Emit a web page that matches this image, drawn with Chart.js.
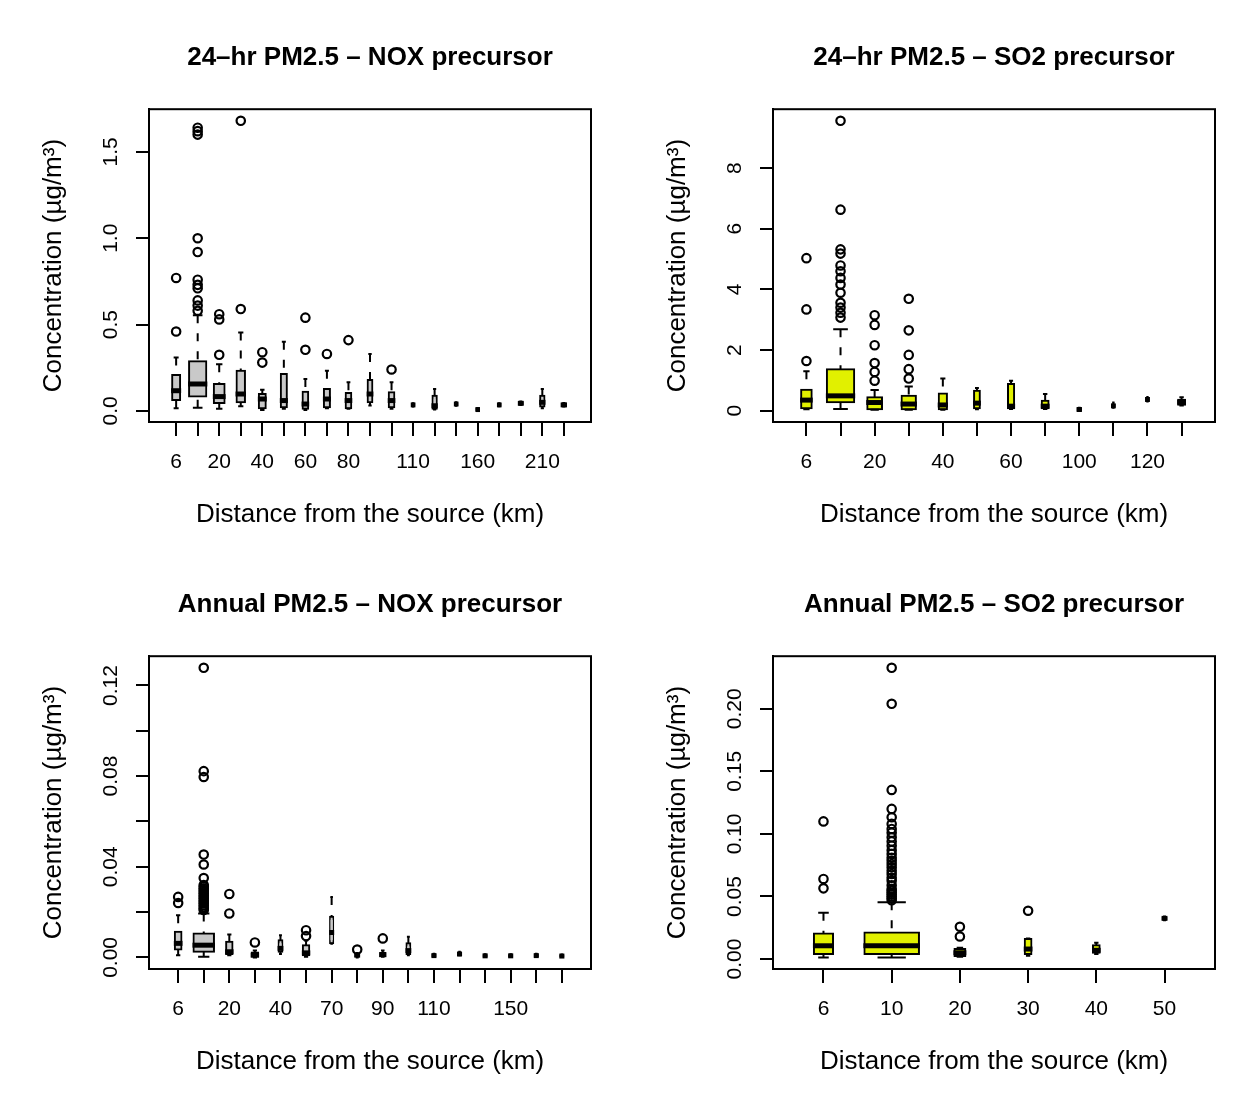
<!DOCTYPE html>
<html>
<head>
<meta charset="utf-8">
<title>PM2.5 concentration by distance from the source</title>
<script src="https://cdn.jsdelivr.net/npm/chart.js@4.4.0/dist/chart.umd.min.js"></script>
<style>
  html, body { margin: 0; padding: 0; background: #fff; }
  body { width: 1247px; height: 1093px; position: relative; overflow: hidden; }
  .panel { position: absolute; width: 623px; height: 546px; }
</style>
</head>
<body>
<div class="panel" style="left:0;top:0"><canvas id="nox24"></canvas></div>
<div class="panel" style="left:624px;top:0"><canvas id="so224"></canvas></div>
<div class="panel" style="left:0;top:547px"><canvas id="noxAnn"></canvas></div>
<div class="panel" style="left:624px;top:547px"><canvas id="so2Ann"></canvas></div>
<script>
// --- 24-hr PM2.5, NOX precursor ---
const catsNox24 = [6, 10, 20, 30, 40, 50, 60, 70, 80, 90, 100, 110, 120, 140, 160, 180, 200, 210, 220];
const shownNox24 = [6, 20, 40, 60, 80, 110, 160, 210];
const loNox24  = [0.016, 0.019, 0.012, 0.027, 0.006, 0.012, 0.006, 0.016, 0.012, 0.031, 0.012, 0.025, 0.008, 0.030, 0.003, 0.027, 0.035, 0.015, 0.025];
const q1Nox24  = [0.064, 0.083, 0.046, 0.050, 0.016, 0.021, 0.012, 0.021, 0.016, 0.050, 0.021, 0.030, 0.012, 0.035, 0.005, 0.030, 0.038, 0.025, 0.028];
const medNox24 = [0.117, 0.156, 0.083, 0.098, 0.069, 0.060, 0.040, 0.069, 0.060, 0.098, 0.060, 0.035, 0.030, 0.040, 0.008, 0.035, 0.044, 0.050, 0.035];
const q3Nox24  = [0.208, 0.287, 0.156, 0.233, 0.098, 0.214, 0.111, 0.127, 0.104, 0.179, 0.108, 0.040, 0.088, 0.045, 0.012, 0.040, 0.050, 0.088, 0.042];
const hiNox24  = [0.310, 0.554, 0.270, 0.454, 0.123, 0.400, 0.185, 0.233, 0.166, 0.330, 0.166, 0.045, 0.127, 0.050, 0.016, 0.045, 0.055, 0.127, 0.046];
const nNox24   = [86, 400, 156, 95, 64, 49, 42, 49, 42, 30, 42, 9, 25, 9, 9, 9, 20, 25, 25];
const outNox24 = [[0.46, 0.77], [0.58, 0.61, 0.64, 0.71, 0.73, 0.76, 0.92, 1.0, 1.6, 1.62, 1.64], [0.325, 0.53, 0.56], [0.59, 1.68], [0.28, 0.34], [], [0.354, 0.54], [0.33], [0.41], [], [0.24], [], [], [], [], [], [], [], []];
const yTicksNox24 = [0, 0.5, 1.0, 1.5];

// --- 24-hr PM2.5, SO2 precursor ---
const catsSo224 = [6, 10, 20, 30, 40, 50, 60, 80, 100, 110, 120, 130];
const shownSo224 = [6, 20, 40, 60, 100, 120];
const loSo224  = [0.05, 0.06, 0.03, 0.03, 0.03, 0.05, 0.06, 0.06, 0.01, 0.10, 0.30, 0.17];
const q1So224  = [0.08, 0.28, 0.05, 0.05, 0.05, 0.08, 0.08, 0.08, 0.02, 0.13, 0.33, 0.20];
const medSo224 = [0.35, 0.49, 0.27, 0.22, 0.19, 0.25, 0.15, 0.15, 0.04, 0.16, 0.37, 0.28];
const q3So224  = [0.69, 1.37, 0.44, 0.49, 0.57, 0.66, 0.88, 0.33, 0.07, 0.20, 0.42, 0.36];
const hiSo224  = [1.30, 2.69, 0.68, 0.80, 1.06, 0.75, 0.99, 0.55, 0.10, 0.27, 0.45, 0.44];
const nSo224   = [60, 400, 116, 110, 36, 18, 20, 25, 6, 4, 4, 25];
const outSo224 = [[1.64, 3.34, 5.03], [3.07, 3.23, 3.40, 3.56, 3.89, 4.16, 4.38, 4.60, 4.79, 5.18, 5.32, 6.63, 9.56], [0.99, 1.28, 1.57, 2.16, 2.83, 3.15], [1.06, 1.37, 1.84, 2.65, 3.69], [], [], [], [], [], [], [], []];
const yTicksSo224 = [0, 2, 4, 6, 8];

// --- Annual PM2.5, NOX precursor ---
const catsNoxAnn = [6, 10, 20, 30, 40, 50, 70, 80, 90, 100, 110, 120, 130, 150, 170, 200];
const shownNoxAnn = [6, 20, 40, 70, 90, 110, 150];
const loNoxAnn  = [0.0010, 0.0003, 0.0010, 0.0000, 0.0015, 0.0003, 0.0060, 0.0000, 0.0003, 0.0010, 0.0003, 0.0010, 0.0002, 0.0002, 0.0004, 0.0002];
const q1NoxAnn  = [0.0035, 0.0025, 0.0015, 0.0004, 0.0025, 0.0010, 0.0062, 0.0005, 0.0006, 0.0015, 0.0005, 0.0012, 0.0004, 0.0004, 0.0006, 0.0004];
const medNoxAnn = [0.0062, 0.0054, 0.0025, 0.0010, 0.0040, 0.0020, 0.0110, 0.0010, 0.0012, 0.0030, 0.0008, 0.0015, 0.0007, 0.0007, 0.0008, 0.0006];
const q3NoxAnn  = [0.0113, 0.0106, 0.0069, 0.0022, 0.0076, 0.0054, 0.0179, 0.0015, 0.0020, 0.0062, 0.0012, 0.0020, 0.0010, 0.0010, 0.0011, 0.0009];
const hiNoxAnn  = [0.0186, 0.0194, 0.0101, 0.0030, 0.0098, 0.0075, 0.0267, 0.0020, 0.0030, 0.0091, 0.0016, 0.0025, 0.0014, 0.0014, 0.0016, 0.0013];
const nNoxAnn   = [42, 400, 39, 39, 14, 39, 9, 14, 25, 14, 9, 9, 9, 9, 9, 9];
const outNoxAnn = [[0.0240, 0.0267], [0.0209, 0.0215, 0.0222, 0.0230, 0.0238, 0.0245, 0.0252, 0.0260, 0.0267, 0.0274, 0.0282, 0.0289, 0.0297, 0.0304, 0.0312, 0.0319, 0.0350, 0.0410, 0.0454, 0.0796, 0.0822, 0.1278], [0.0194, 0.0280], [0.0066], [], [0.0094, 0.0120], [], [0.0035], [0.0084], [], [], [], [], [], [], []];
const yTicksNoxAnn = [0, 0.02, 0.04, 0.06, 0.08, 0.10, 0.12];
const yLabelsNoxAnn = [0, 0.04, 0.08, 0.12];

// --- Annual PM2.5, SO2 precursor ---
const catsSo2Ann = [6, 10, 20, 30, 40, 50];
const loSo2Ann  = [0.0013, 0.0013, 0.0018, 0.0027, 0.0040, 0.0310];
const q1So2Ann  = [0.0040, 0.0040, 0.0025, 0.0040, 0.0050, 0.0320];
const medSo2Ann = [0.0106, 0.0106, 0.0050, 0.0080, 0.0070, 0.0325];
const q3So2Ann  = [0.0205, 0.0213, 0.0080, 0.0160, 0.0110, 0.0330];
const hiSo2Ann  = [0.0370, 0.0453, 0.0090, 0.0165, 0.0130, 0.0340];
const nSo2Ann   = [49, 400, 16, 6, 6, 2];
const outSo2Ann = [[0.0565, 0.0640, 0.1100], [0.0470, 0.0485, 0.0500, 0.0515, 0.0530, 0.0545, 0.0560, 0.0590, 0.0626, 0.0650, 0.0680, 0.0705, 0.0733, 0.0760, 0.0786, 0.0810, 0.0840, 0.0870, 0.0906, 0.0940, 0.0973, 0.1010, 0.1040, 0.1080, 0.1133, 0.1200, 0.1352, 0.2040, 0.2328], [0.0180, 0.0258], [0.0386], [], []];
const yTicksSo2Ann = [0, 0.05, 0.10, 0.15, 0.20];

const FONT = "'Liberation Sans', Arial, Helvetica, sans-serif";
const GREY = '#c9c9c9';
const YELLOW = '#e1f000';

// whiskers (dashed, drawn from the end toward the box), staples and the thick median
function whiskerPlugin(d, widths) {
  return {
    id: 'whiskers',
    afterDatasetsDraw(chart) {
      const { ctx, scales: { x, y } } = chart;
      const unit = x.getPixelForValue(2) - x.getPixelForValue(1);
      ctx.save();
      ctx.strokeStyle = '#000';
      d.q1.forEach((_, i) => {
        const cx = x.getPixelForValue(i + 1);
        const half = unit * widths[i] / 2 + 1;
        ctx.lineWidth = 2;
        ctx.setLineDash([8, 10]);
        ctx.beginPath();
        ctx.moveTo(cx, y.getPixelForValue(d.hi[i]));
        ctx.lineTo(cx, y.getPixelForValue(d.q3[i]));
        ctx.moveTo(cx, y.getPixelForValue(d.lo[i]));
        ctx.lineTo(cx, y.getPixelForValue(d.q1[i]));
        ctx.stroke();
        ctx.setLineDash([]);
        ctx.beginPath();
        [d.lo[i], d.hi[i]].forEach(v => {
          const py = y.getPixelForValue(v);
          ctx.moveTo(cx - half / 2, py);
          ctx.lineTo(cx + half / 2, py);
        });
        ctx.stroke();
        ctx.lineWidth = 5;
        const my = y.getPixelForValue(d.med[i]);
        ctx.beginPath();
        ctx.moveTo(cx - half, my);
        ctx.lineTo(cx + half, my);
        ctx.stroke();
      });
      ctx.restore();
    }
  };
}

// R-style box round the plot region
const plotFrame = {
  id: 'plotFrame',
  afterDraw(chart) {
    const { ctx, chartArea: a } = chart;
    ctx.save();
    ctx.strokeStyle = '#000';
    ctx.lineWidth = 2;
    ctx.strokeRect(a.left, a.top, a.right - a.left, a.bottom - a.top);
    ctx.restore();
  }
};

function boxChart(id, title, d) {
  const n = d.cats.length;
  const nMax = Math.max(...d.nObs);
  const widths = d.nObs.map(k => 0.8 * Math.sqrt(k / nMax));
  const all = d.lo.concat(d.hi, d.outs.flat());
  const dMin = Math.min(...all), dMax = Math.max(...all);
  const ext = 0.04 * (dMax - dMin);

  const meter = document.createElement('canvas').getContext('2d');
  meter.font = '21px ' + FONT;
  const widest = Math.max(...d.yLabels.map(v => meter.measureText(v.toFixed(d.yDigits)).width));

  const boxes = d.cats.map((c, i) => ({
    type: 'bar',
    data: [{ x: i + 1, y: [d.q1[i], d.q3[i]] }],
    backgroundColor: d.fill,
    borderColor: '#000',
    borderWidth: 2,
    borderSkipped: false,
    inflateAmount: 1,
    grouped: false,
    categoryPercentage: 1,
    barPercentage: widths[i]
  }));
  const outliers = {
    type: 'scatter',
    data: d.outs.flatMap((arr, i) => arr.map(v => ({ x: i + 1, y: v }))),
    pointStyle: 'circle',
    pointRadius: 4.2,
    pointBorderWidth: 2.2,
    pointBorderColor: '#000',
    pointBackgroundColor: 'rgba(0,0,0,0)'
  };

  new Chart(document.getElementById(id), {
    type: 'bar',
    data: { datasets: boxes.concat([outliers]) },
    options: {
      responsive: true,
      maintainAspectRatio: false,
      animation: false,
      events: [],
      layout: { padding: { left: 0, right: 32, top: 0, bottom: 0 } },
      plugins: {
        legend: { display: false },
        tooltip: { enabled: false },
        title: {
          display: true, text: title, color: '#000', fullSize: false,
          font: { family: FONT, size: 26, weight: 'bold' },
          padding: { top: 42, bottom: 36 }
        }
      },
      scales: {
        x: {
          type: 'linear',
          offset: false,
          min: 0.5 - 0.04 * n,
          max: n + 0.5 + 0.04 * n,
          afterBuildTicks: s => { s.ticks = d.cats.map((c, i) => ({ value: i + 1 })); },
          afterFit: s => { s.height = 124; },
          grid: { offset: false, drawOnChartArea: false, tickLength: 14, color: '#000', lineWidth: 2 },
          border: { display: true, color: '#000', width: 2 },
          ticks: {
            autoSkip: false, maxRotation: 0, minRotation: 0, padding: 14,
            color: '#000', font: { family: FONT, size: 21 },
            callback: v => {
              const c = d.cats[v - 1];
              return d.shown.includes(c) ? String(c) : '';
            }
          },
          title: {
            display: true, text: 'Distance from the source (km)', color: '#000',
            font: { family: FONT, size: 26 }, padding: { top: 0, bottom: 16 }
          }
        },
        y: {
          type: 'linear',
          min: dMin - ext,
          max: dMax + ext,
          afterBuildTicks: s => { s.ticks = d.yTicks.map(v => ({ value: v })); },
          afterFit: s => { s.width = 149; },
          grid: { drawOnChartArea: false, tickLength: 13, color: '#000', lineWidth: 2 },
          border: { display: true, color: '#000', width: 2 },
          ticks: {
            minRotation: 90, maxRotation: 90, crossAlign: 'center',
            padding: 38 - 13 - widest / 2,
            color: '#000', font: { family: FONT, size: 21 },
            callback: v => d.yLabels.includes(v) ? v.toFixed(d.yDigits) : ''
          },
          title: {
            display: true, text: 'Concentration (µg/m³)', color: '#000',
            font: { family: FONT, size: 26 }, padding: { top: 38, bottom: 0 }
          }
        }
      }
    },
    plugins: [whiskerPlugin(d, widths), plotFrame]
  });
}

boxChart('nox24', '24\u2013hr PM2.5 \u2013 NOX precursor', {
  cats: catsNox24, shown: shownNox24, lo: loNox24, q1: q1Nox24, med: medNox24, q3: q3Nox24, hi: hiNox24,
  nObs: nNox24, outs: outNox24, yTicks: yTicksNox24, yLabels: yTicksNox24, yDigits: 1, fill: GREY
});
boxChart('so224', '24\u2013hr PM2.5 \u2013 SO2 precursor', {
  cats: catsSo224, shown: shownSo224, lo: loSo224, q1: q1So224, med: medSo224, q3: q3So224, hi: hiSo224,
  nObs: nSo224, outs: outSo224, yTicks: yTicksSo224, yLabels: yTicksSo224, yDigits: 0, fill: YELLOW
});
boxChart('noxAnn', 'Annual PM2.5 \u2013 NOX precursor', {
  cats: catsNoxAnn, shown: shownNoxAnn, lo: loNoxAnn, q1: q1NoxAnn, med: medNoxAnn, q3: q3NoxAnn, hi: hiNoxAnn,
  nObs: nNoxAnn, outs: outNoxAnn, yTicks: yTicksNoxAnn, yLabels: yLabelsNoxAnn, yDigits: 2, fill: GREY
});
boxChart('so2Ann', 'Annual PM2.5 \u2013 SO2 precursor', {
  cats: catsSo2Ann, shown: catsSo2Ann, lo: loSo2Ann, q1: q1So2Ann, med: medSo2Ann, q3: q3So2Ann, hi: hiSo2Ann,
  nObs: nSo2Ann, outs: outSo2Ann, yTicks: yTicksSo2Ann, yLabels: yTicksSo2Ann, yDigits: 2, fill: YELLOW
});
</script>
</body>
</html>
